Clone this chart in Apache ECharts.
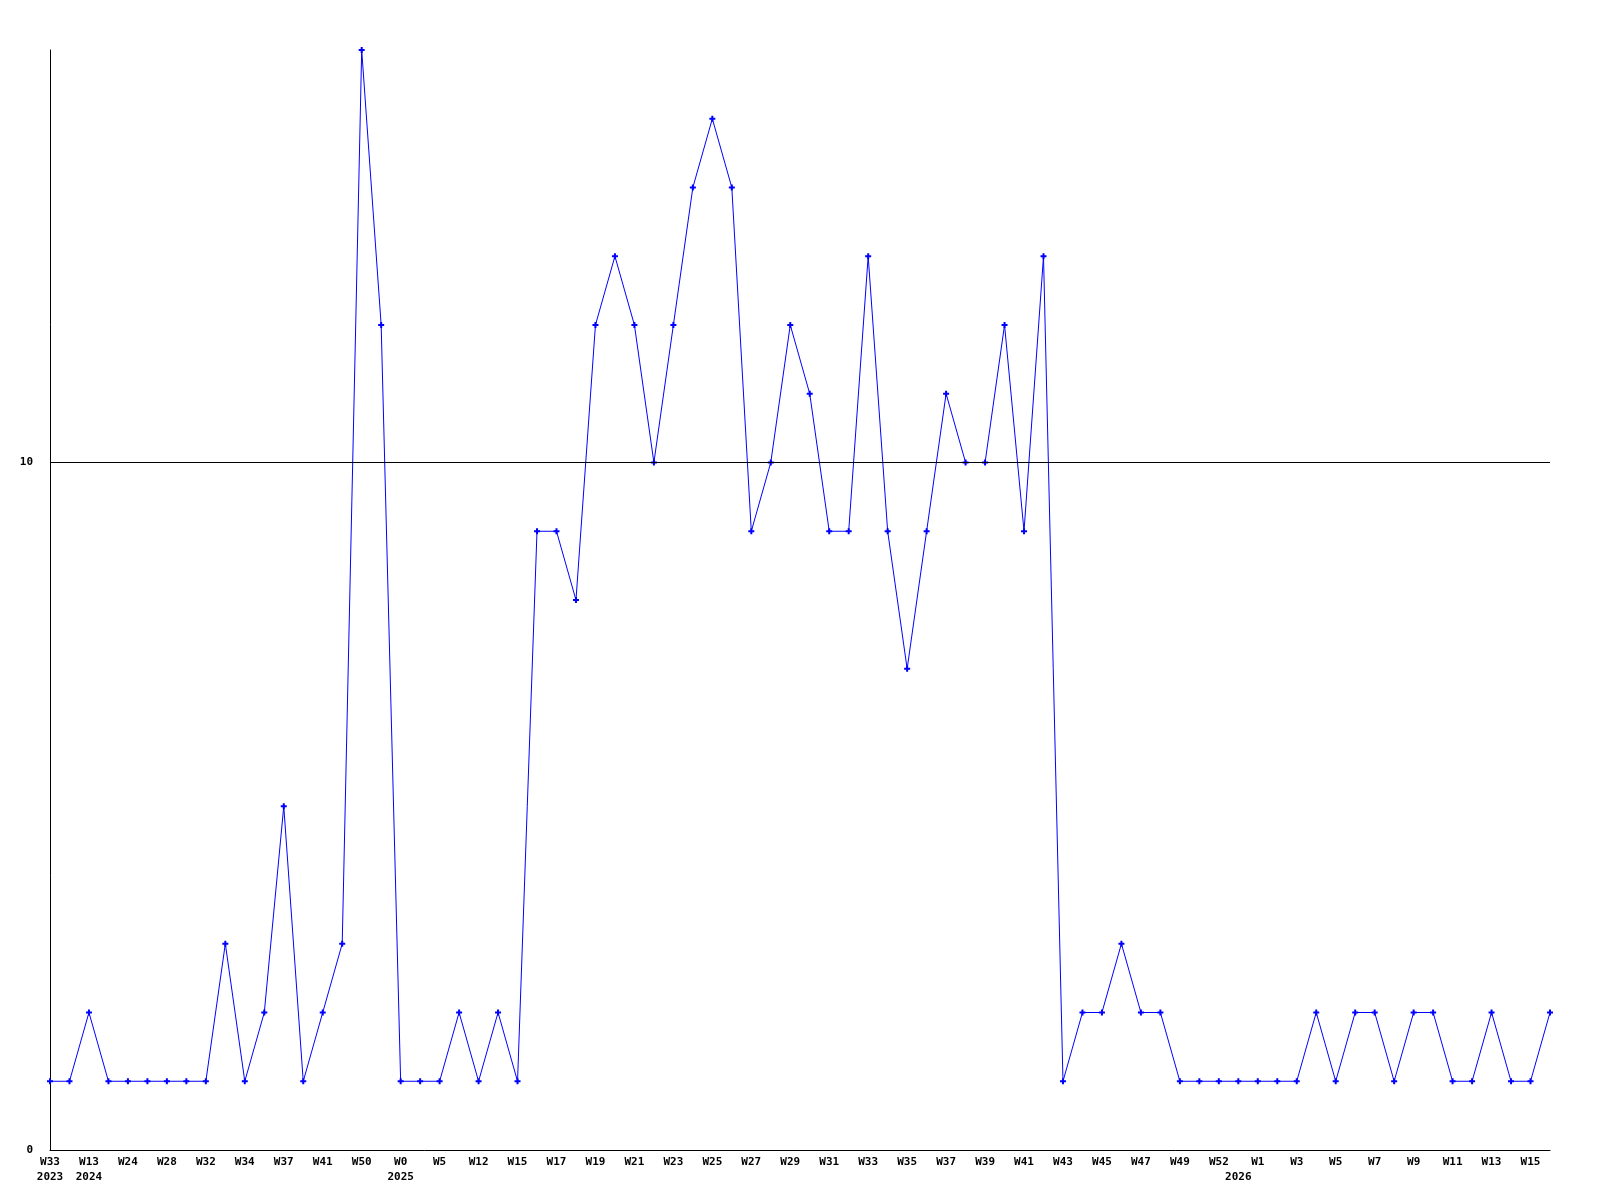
<!DOCTYPE html>
<html>
<head>
<meta charset="utf-8">
<script src="https://cdn.jsdelivr.net/npm/echarts@6/dist/echarts.min.js"></script>
<style>
html,body{margin:0;padding:0;background:#fff;}
#chart{width:1600px;height:1200px;}
</style>
</head>
<body>
<div id="chart"></div>
<script>
// Week categories (every other one is labelled on the axis)
const weeks = [
  'W33','W35','W13','W20','W24','W26','W28','W30','W32','W33',
  'W34','W36','W37','W39','W41','W45','W50','W51','W0','W3',
  'W5','W8','W12','W14','W15','W16','W17','W18','W19','W20',
  'W21','W22','W23','W24','W25','W26','W27','W28','W29','W30',
  'W31','W32','W33','W34','W35','W36','W37','W38','W39','W40',
  'W41','W42','W43','W44','W45','W46','W47','W48','W49','W51',
  'W52','W0','W1','W2','W3','W4','W5','W6','W7','W8',
  'W9','W10','W11','W12','W13','W14','W15','W16'
];
// Year label shown under these category indices
const yearMarks = {0:'2023', 2:'2024', 18:'2025', 61:'2026'};
// Values per week
const values = [
  1,1,2,1,1,1,1,1,1,3,
  1,2,5,1,2,3,16,12,1,1,
  1,2,1,2,1,9,9,8,12,13,
  12,10,12,14,15,14,9,10,12,11,
  9,9,13,9,7,9,11,10,10,12,
  9,13,1,2,2,3,2,2,1,1,
  1,1,1,1,1,2,1,2,2,1,
  2,2,1,1,2,1,1,2
];
const yMax = 16;
const refLine = 10;

const font = '"DejaVu Sans Mono", "Liberation Mono", monospace';
const chart = echarts.init(document.getElementById('chart'), null, {renderer:'canvas'});
chart.setOption({
  animation: false,
  backgroundColor: '#ffffff',
  grid: {left: 50, right: 50, top: 50, bottom: 50, containLabel: false},
  xAxis: {
    type: 'category',
    data: weeks,
    boundaryGap: false,
    axisLine: {show: true, lineStyle: {color: '#000', width: 1}},
    axisTick: {show: false},
    splitLine: {show: false},
    axisLabel: {
      interval: 0,
      margin: 5,
      color: '#000',
      fontFamily: font,
      fontWeight: 'bold',
      fontSize: 11,
      lineHeight: 15,
      formatter: function (val, idx) {
        const w = (idx % 2 === 0) ? val : '';
        const y = yearMarks[idx];
        return y ? (w + '\n' + y) : w;
      }
    }
  },
  yAxis: {
    type: 'value',
    min: 0,
    max: yMax,
    interval: 10,
    axisLine: {show: true, lineStyle: {color: '#000', width: 1}},
    axisTick: {show: false},
    splitLine: {show: false},
    axisLabel: {
      margin: 17,
      color: '#000',
      fontFamily: font,
      fontWeight: 'bold',
      fontSize: 11,
      formatter: function (v) { return (v === 0 || v === 10) ? String(v) : ''; }
    }
  },
  series: [{
    type: 'line',
    data: values,
    symbol: 'path://M2,0H4V2H6V4H4V6H2V4H0V2H2Z',
    symbolSize: 6,
    showAllSymbol: true,
    lineStyle: {color: '#0000ff', width: 1},
    itemStyle: {color: '#0000ff'},
    markLine: {
      silent: true,
      symbol: ['none','none'],
      label: {show: false},
      lineStyle: {color: '#000', type: 'solid', width: 1},
      data: [{yAxis: refLine}]
    }
  }]
});
</script>
</body>
</html>
